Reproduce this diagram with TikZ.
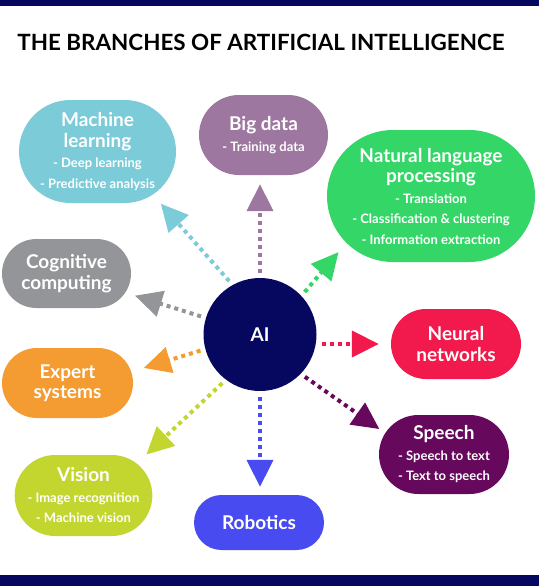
\documentclass[tikz,border=0pt]{standalone}
\usepackage{fontspec}
\setmainfont{Lato}
\usepackage{xcolor}
\usetikzlibrary{arrows.meta,shapes.misc}

\definecolor{navy}{HTML}{06075E}
\definecolor{mlc}{HTML}{7BCBD8}
\definecolor{bdc}{HTML}{9E77A1}
\definecolor{nlpc}{HTML}{34D667}
\definecolor{cogc}{HTML}{939598}
\definecolor{expc}{HTML}{F49C32}
\definecolor{visc}{HTML}{C3D62F}
\definecolor{robc}{HTML}{484CF0}
\definecolor{nnc}{HTML}{F2194C}
\definecolor{spc}{HTML}{66085C}

\newcommand\itm[1]{{\fontsize{13}{20.5}\selectfont #1}}

\begin{document}
\begin{tikzpicture}[x=1pt,y=-1pt,
  font=\bfseries\fontsize{19}{20.5}\selectfont,
  branch/.style={rounded rectangle,text=white,align=center,inner sep=2pt},
  arr/.style={line width=4pt,dash pattern=on 4pt off 4pt,-{Triangle[length=27pt,width=26pt]},shorten <=5pt}]
\fill[white] (0,0) rectangle (539,586);
\useasboundingbox (0,0) rectangle (539,586);
\fill[navy] (0,0) rectangle (539,6);
\fill[navy] (0,575) rectangle (539,586);
\node (title) at (261,42) {\fontsize{22.4}{26}\selectfont THE BRANCHES OF ARTIFICIAL INTELLIGENCE};
% center
\node[circle,fill=navy,text=white,minimum size=113pt,inner sep=0pt] (ai) at (260,334.5) {AI};
% branches
\node[branch,fill=mlc,minimum width=161pt,minimum height=103pt] (ml) at (97.5,151.5)
  {Machine\\learning\\\itm{- Deep learning}\\\itm{- Predictive analysis}};
\node[branch,fill=bdc,minimum width=133pt,minimum height=80pt] (bd) at (263.5,135)
  {Big data\\\itm{- Training data}};
\node[branch,fill=nlpc,minimum width=212pt,minimum height=132pt] (nlp) at (431,196)
  {Natural language\\processing\\\itm{- Translation}\\\itm{- Classification \& clustering}\\\itm{- Information extraction}};
\node[branch,fill=cogc,minimum width=133pt,minimum height=69pt] (cog) at (66.5,273.5)
  {Cognitive\\computing};
\node[branch,fill=expc,minimum width=135pt,minimum height=70pt] (exp) at (67.5,383)
  {Expert\\systems};
\node[branch,fill=visc,minimum width=135pt,minimum height=81pt] (vis) at (83.5,495.5)
  {Vision\\\itm{- Image recognition}\\\itm{- Machine vision}};
\node[branch,fill=robc,minimum width=134pt,minimum height=55pt] (rob) at (259,522.5)
  {Robotics};
\node[branch,fill=nnc,minimum width=134pt,minimum height=70pt] (nn) at (456,344)
  {Neural\\networks};
\node[branch,fill=spc,minimum width=134pt,minimum height=79pt] (sp) at (444,454.5)
  {Speech\\\itm{- Speech to text}\\\itm{- Text to speech}};
% arrows
\draw[arr,mlc,shorten >=12pt] (ai.119) -- (ml.-38);
\draw[arr,bdc,shorten >=9pt] (ai.north) -- (ai.north |- bd.south);
\draw[arr,nlpc,shorten >=12pt] (ai.43) -- (nlp.209);
\draw[arr,cogc,shorten >=10pt] (ai.163) -- (cog.-18);
\draw[arr,expc,shorten >=13pt] (ai.195) -- (exp.10);
\draw[arr,visc,shorten >=13pt] (ai.233) -- (vis.31);
\draw[arr,robc,shorten <=6pt,shorten >=8pt] (ai.south) -- (ai.south |- rob.north);
\draw[arr,nnc,shorten >=12pt] (nn.west -| ai.east) -- (nn.west);
\draw[arr,spc,shorten >=7pt] (ai.-44) -- (sp.160);
\end{tikzpicture}
\end{document}
